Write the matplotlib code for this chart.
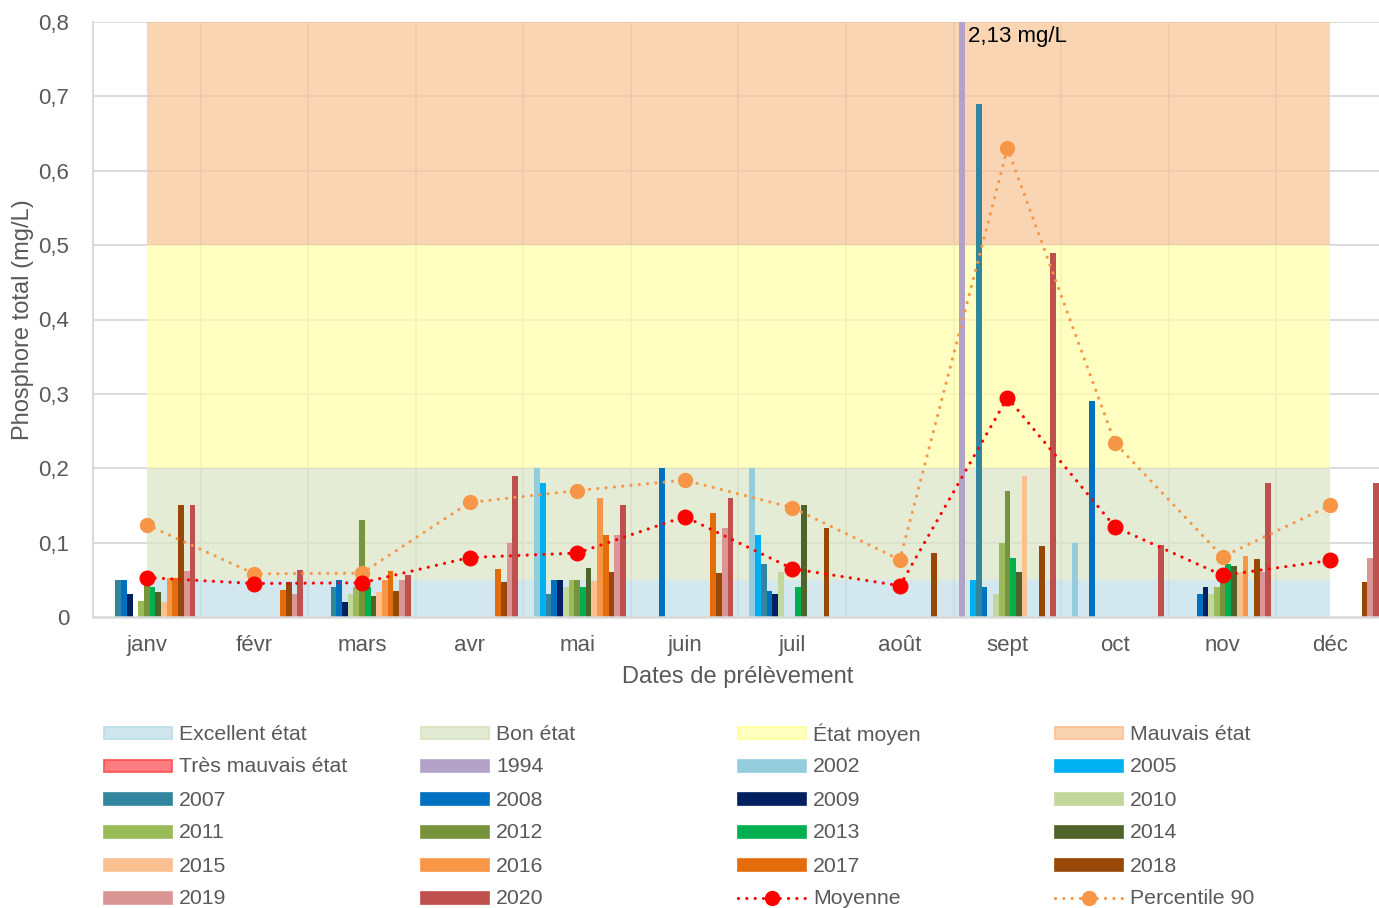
import numpy as np
import matplotlib
matplotlib.use("Agg")
import matplotlib.pyplot as plt
from matplotlib.patches import Rectangle
from matplotlib.lines import Line2D

plt.rcParams['font.family'] = ['Liberation Sans', 'DejaVu Sans']

months = ['janv', 'févr', 'mars', 'avr', 'mai', 'juin', 'juil', 'août', 'sept', 'oct', 'nov', 'déc']
N = np.nan

years = ['1994', '2002', '2005', '2007', '2008', '2009', '2010', '2011', '2012', '2013',
         '2014', '2015', '2016', '2017', '2018', '2019', '2020']

v1994 = [N, N, N, N, N, N, N, N, 2.13, N, N, N]
v2002 = [N, N, N, N, 0.20, N, 0.20, N, N, 0.10, N, N]
v2005 = [N, N, N, N, 0.18, N, 0.11, N, 0.05, N, N, N]
v2007 = [0.05, N, 0.041, N, 0.031, N, 0.071, N, 0.69, N, N, N]
v2008 = [0.05, N, 0.05, N, 0.05, 0.20, 0.035, N, 0.041, 0.29, 0.031, N]
v2009 = [0.031, N, 0.02, N, 0.05, N, 0.031, N, N, N, 0.041, N]
v2010 = [N, N, 0.031, N, 0.041, N, 0.06, N, 0.031, N, 0.031, N]
v2011 = [0.021, N, 0.041, N, 0.05, N, N, N, 0.10, N, 0.041, N]
v2012 = [0.05, N, 0.13, N, 0.05, N, N, N, 0.17, N, 0.05, N]
v2013 = [0.041, N, 0.041, N, 0.041, N, 0.041, N, 0.08, N, 0.071, N]
v2014 = [0.034, N, 0.028, N, 0.066, N, 0.15, N, 0.06, N, 0.069, N]
v2015 = [0.02, N, 0.033, N, 0.049, N, N, N, 0.19, N, 0.06, N]
v2016 = [0.052, N, 0.05, N, 0.16, N, N, N, N, N, 0.082, N]
v2017 = [0.052, 0.036, 0.062, 0.065, 0.11, 0.14, N, N, N, N, N, N]
v2018 = [0.15, 0.047, 0.035, 0.047, 0.06, 0.059, 0.12, 0.086, 0.096, N, 0.078, 0.047]
v2019 = [0.062, 0.031, 0.05, 0.10, 0.11, 0.12, N, N, N, N, 0.06, 0.08]
v2020 = [0.15, 0.063, 0.056, 0.19, 0.15, 0.16, N, N, 0.49, 0.097, 0.18, 0.18]

moyenne = [0.053, 0.045, 0.046, 0.080, 0.086, 0.135, 0.065, 0.042, 0.295, 0.121, 0.056, 0.076]
percentile90 = [0.124, 0.058, 0.059, 0.154, 0.170, 0.184, 0.147, 0.077, 0.630, 0.234, 0.081, 0.150]

# quality class thresholds (mg/L)
class_names = ['Excellent état', 'Bon état', 'État moyen', 'Mauvais état', 'Très mauvais état']
class_bounds = [0.0, 0.05, 0.2, 0.5, 0.8, 3.0]

series_values = [v1994, v2002, v2005, v2007, v2008, v2009, v2010, v2011, v2012, v2013,
                 v2014, v2015, v2016, v2017, v2018, v2019, v2020]

year_colors = ['#B3A2C7', '#93CDDD', '#00B0F0', '#31859C', '#0070C0', '#002060', '#C3D69B',
               '#9BBB59', '#77933C', '#00B050', '#4F6228', '#FAC090', '#F79646', '#E46C0A',
               '#974806', '#D99694', '#C0504D']
band_colors = ['#CFE6EC', '#E3EBD4', '#FFFFBF', '#F9D3B1', '#FF7C80']
band_draw = ['#C2E0E8', '#DAE5C7', '#FFFFAA', '#F7C598', '#FF7C80']
band_edges = ['#B7DEE8', '#D7E4BD', '#FFFF99', '#FAC090', '#FF5050']
mean_color = '#FF0000'
p90_color = '#F79646'
text_color = '#595959'

W, H = 1379, 908
fig = plt.figure(figsize=(W / 100, H / 100), dpi=100)
ax = fig.add_axes([93 / W, 1 - 617 / H, 1291 / W, 595 / H])
ax.set_xlim(-0.5, 11.5)
ax.set_ylim(0, 0.8)

x = np.arange(len(months))

# gridlines
for yv in np.arange(0.1, 0.81, 0.1):
    ax.axhline(yv, color='#D9D9D9', lw=1.3, zorder=0)
for xv in np.arange(-0.5, 11.6, 1.0):
    ax.axvline(xv, color='#D9D9D9', lw=1.3, zorder=0)

# class bands (area series from first to last month)
for i in range(len(class_names)):
    ax.fill_between([x[0], x[-1]], class_bounds[i], class_bounds[i + 1],
                    color=band_draw[i], alpha=0.72, lw=0, zorder=1)

# clustered columns
nser = len(years)
bw = 0.0531
for i, (vals, col) in enumerate(zip(series_values, year_colors)):
    vals = np.array(vals, dtype=float)
    xs = x + (i - (nser - 1) / 2) * bw
    m = ~np.isnan(vals)
    ax.bar(xs[m], vals[m], width=bw, color=col, lw=0, zorder=2)

# lines
dot = (0, (0.01, 2.6))
ax.plot(x, percentile90, color=p90_color, lw=2.3, ls=dot, dash_capstyle='round', zorder=3)
ax.plot(x, percentile90, color=p90_color, lw=0, marker='o', ms=10, zorder=3.1)
ax.plot(x, moyenne, color=mean_color, lw=2.3, ls=dot, dash_capstyle='round', zorder=4)
ax.plot(x, moyenne, color=mean_color, lw=0, marker='o', ms=10.5, zorder=4.1)

ax.text((967 - 146) / 107.6, 0.78, '2,13 mg/L', ha='left', va='center', fontsize=16,
        color='black', family=['Liberation Sans Narrow', 'Liberation Sans', 'DejaVu Sans'],
        zorder=6)

# axes styling
for s in ['top', 'right']:
    ax.spines[s].set_visible(False)
ax.spines['left'].set_color('#D9D9D9')
ax.spines['left'].set_linewidth(1.3)
ax.spines['bottom'].set_color('#D9D9D9')
ax.spines['bottom'].set_linewidth(1.8)
ax.spines['bottom'].set_zorder(5)

ax.set_xticks(x)
ax.set_xticklabels(months)
yt = np.round(np.arange(0, 0.81, 0.1), 1)
ax.set_yticks(yt)
ax.set_yticklabels(['0' if v == 0 else f'{v:.1f}'.replace('.', ',') for v in yt])
ax.tick_params(axis='both', length=0, labelsize=16, colors=text_color)
ax.tick_params(axis='x', pad=13)
ax.tick_params(axis='y', pad=17)

fig.text(23 / W, 1 - 320 / H, 'Phosphore total (mg/L)', rotation=90, ha='center', va='center',
         fontsize=17, color=text_color)
fig.text(738 / W, 1 - 677 / H, 'Dates de prélèvement', ha='center', va='center',
         fontsize=17, color=text_color)

# legend (row-major, 4 columns)
entries = []
for i in range(len(class_names)):
    entries.append(('patch', class_names[i], band_colors[i], band_edges[i]))
for y_, c in zip(years, year_colors):
    entries.append(('patch', y_, c, c))
entries.append(('line', 'Moyenne', mean_color, None))
entries.append(('line', 'Percentile 90', p90_color, None))

for k, (kind, label, col, ec) in enumerate(entries):
    r, c = divmod(k, 4)
    x0 = 104 + 317 * c
    yc = 733 + 33 * r
    if kind == 'patch':
        fig.patches.append(Rectangle((x0 / W, 1 - (yc + 6) / H), 68 / W, 12 / H,
                                     transform=fig.transFigure, facecolor=col,
                                     edgecolor=ec, lw=1.2))
    else:
        fig.lines.append(Line2D([x0 / W, (x0 + 68) / W], [1 - yc / H, 1 - yc / H],
                                transform=fig.transFigure, color=col, lw=2.3, ls=dot,
                                dash_capstyle='round'))
        fig.lines.append(Line2D([(x0 + 34) / W], [1 - yc / H], transform=fig.transFigure,
                                color=col, marker='o', ms=10, lw=0))
    fig.text((x0 + 75) / W, 1 - (yc + 1) / H, label, ha='left', va='center', fontsize=15.3,
             color=text_color)

fig.savefig('out.png', dpi=100)
